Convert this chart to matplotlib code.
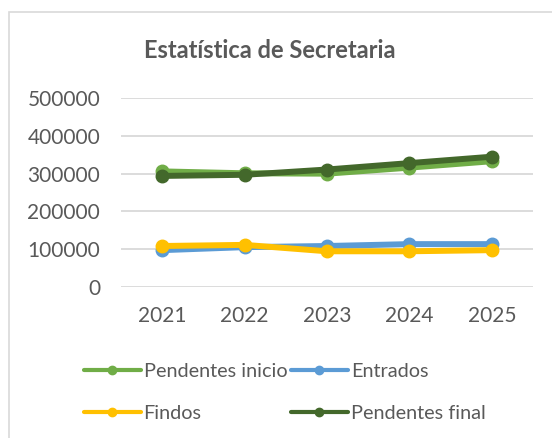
import matplotlib
matplotlib.use("Agg")
from matplotlib import pyplot as plt
from matplotlib.lines import Line2D
from matplotlib.patches import Rectangle

# Dados
anos = ["2021", "2022", "2023", "2024", "2025"]
pendentes_inicio = [306000, 301000, 300000, 316000, 333000]
entrados = [97000, 105000, 108000, 113000, 113000]
findos = [108000, 111000, 94000, 94000, 97000]
pendentes_final = [294000, 297000, 311000, 328000, 345000]

y_ticks = [0, 100000, 200000, 300000, 400000, 500000]

series = [
    ("Pendentes inicio", pendentes_inicio, "#70ad47"),
    ("Entrados", entrados, "#5b9bd5"),
    ("Findos", findos, "#ffc000"),
    ("Pendentes final", pendentes_final, "#43682b"),
]

plt.rcParams["font.family"] = ["Lato", "DejaVu Sans"]
texto = "#595959"

fig = plt.figure(figsize=(5.52, 4.38), dpi=100)

# moldura do gráfico (só topo e esquerda visíveis)
fig.patches.append(Rectangle((9 / 552, -0.5), 2, 1.5 - 12 / 438, transform=fig.transFigure,
                             fill=False, edgecolor="#d9d9d9", linewidth=1.2))

ax = fig.add_axes([121 / 552, 1 - 286.7 / 438, 412 / 552, 188.4 / 438])
x = list(range(len(anos)))

for nome, valores, cor in series:
    ax.plot(x, valores, color=cor, linewidth=4.3, marker="o", markersize=9,
            solid_capstyle="round", label=nome, zorder=3)

ax.set_xlim(-0.5, len(anos) - 0.5)
ax.set_ylim(0, 500000)
ax.set_yticks(y_ticks)
ax.set_yticklabels([str(v) for v in y_ticks])
ax.set_xticks(x)
ax.set_xticklabels(anos)
ax.grid(axis="y", color="#d9d9d9", linewidth=1.3, zorder=0)
ax.set_axisbelow(True)
for s in ax.spines.values():
    s.set_visible(False)
ax.tick_params(axis="both", length=0, labelsize=15, colors=texto)
ax.tick_params(axis="y", pad=15)
ax.tick_params(axis="x", pad=14)

fig.text(270 / 552, 1 - 58 / 438, "Estatística de Secretaria", ha="center", va="baseline",
         fontsize=17, fontweight="bold", color=texto)

# legenda preenchida por linhas: (inicio, entrados) / (findos, final)
ordem = [0, 2, 1, 3]
handles = [Line2D([], [], color=series[i][2], linewidth=3, marker="o", markersize=6,
                  solid_capstyle="round") for i in ordem]
labels = [series[i][0] for i in ordem]
leg = fig.legend(handles, labels, ncol=2, loc="upper left",
                 bbox_to_anchor=(76 / 552, 1 - 355 / 438), frameon=False,
                 fontsize=14.3, handlelength=2.85, handletextpad=0.15,
                 columnspacing=0.2, labelspacing=1.25, borderaxespad=0)
for t in leg.get_texts():
    t.set_color(texto)

plt.savefig("out.png", dpi=100)
